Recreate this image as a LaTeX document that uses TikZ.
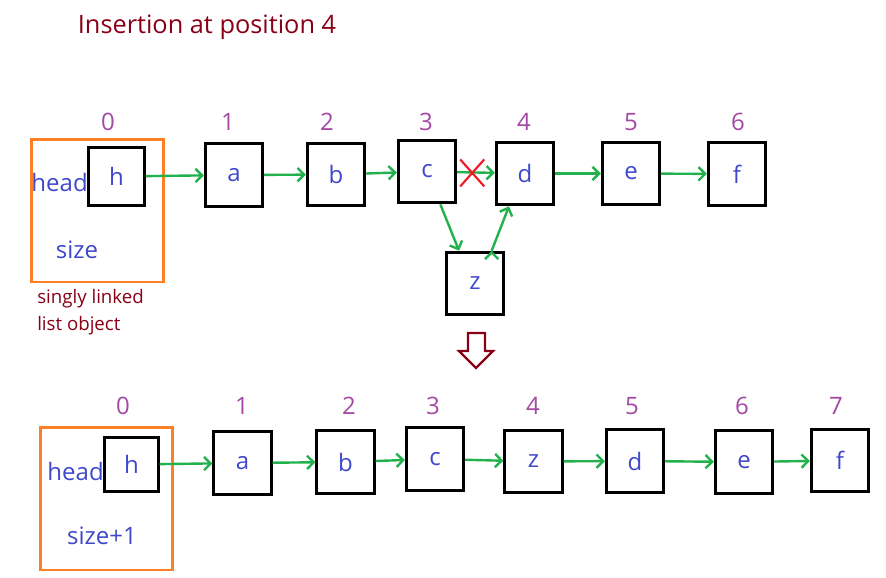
\documentclass[tikz,border=0pt]{standalone}
\usepackage{fontspec}
\setmainfont{Open Sans}
\usetikzlibrary{arrows.meta}
\definecolor{txtblue}{HTML}{3F48CC}
\definecolor{idxpurple}{HTML}{A349A4}
\definecolor{darkred}{HTML}{880015}
\definecolor{objorange}{HTML}{FF7F27}
\definecolor{linkgreen}{HTML}{22B14C}
\definecolor{cutred}{HTML}{ED1C24}
\tikzset{
  elem/.style    ={rectangle, draw=black, line width=2.2pt, minimum width=43pt,
    minimum height=47pt, inner sep=0pt, text=txtblue, font=\fontsize{18}{20}\selectfont},
  headbox/.style ={elem, minimum width=42pt, minimum height=44pt},
  object/.style  ={rectangle, draw=objorange, line width=2pt, minimum width=99pt,
    minimum height=107pt},
  field/.style   ={text=txtblue, inner sep=0pt, font=\fontsize{18}{20}\selectfont},
  index/.style   ={text=idxpurple, inner sep=0pt, font=\fontsize{18}{20}\selectfont},
  note/.style    ={text=darkred, inner sep=0pt, align=left, font=\fontsize{14}{20}\selectfont},
  nextarr/.style ={draw=linkgreen, line width=1.8pt, -{Straight Barb[length=5pt,width=10pt]}}}

\begin{document}
\begin{tikzpicture}[x=0.75pt,y=-0.75pt]
\useasboundingbox (0,0) rectangle (886,578);

\node[note, font=\fontsize{19}{22}\selectfont] (title) at (207,27) {Insertion at position 4};

% list before insertion
\node[object] (obj0) at (97.5,210.5) {};
\node[headbox] (h0) at (116.5,176.5) {h};
\node[field, anchor=east] (head0) at (88,182) {head};
\node[field] (size0) at (77,250) {size};
\node[note, anchor=north west] (caption) at (37,289) {singly linked\\list object};
\node[elem] (a0) at (234,175)   {a};
\node[elem] (b0) at (336,174.5) {b};
\node[elem] (c0) at (427,171.5) {c};
\node[elem] (d0) at (525,173.5) {d};
\node[elem] (e0) at (631,173.5) {e};
\node[elem] (f0) at (737,174)   {f};
\node[elem] (z0) at (475,283.5) {z};

\node[index] (i00) at (108,122) {0};
\node[index] (i01) at (228,122) {1};
\node[index] (i02) at (327,122) {2};
\node[index] (i03) at (426,122) {3};
\node[index] (i04) at (524,122) {4};
\node[index] (i05) at (631,122) {5};
\node[index] (i06) at (738,122) {6};

\path[nextarr]
  (h0) edge (a0)
  (a0) edge (b0)
  (b0) edge (c0)
  (c0) edge coordinate[pos=.4] (cut) (d0)
  (d0) edge (e0)
  (e0) edge (f0)
  % new node z
  ([xshift=10pt]c0.south) edge ([xshift=-12pt]z0.north)
  ([xshift=12.5pt]z0.north) edge ([xshift=-12pt]d0.south);

\draw[cutred, line width=1.6pt]
  (cut) ++(-12,-13) -- ++(24,27)
  (cut) ++(12,-13) -- ++(-24,27);

% hollow arrow
\draw[darkred, line width=1.6pt, fill=white]
  (468,333) -- (485,333) -- (485,351) -- (493,351) -- (476,368)
  -- (459,351) -- (468,351) -- cycle;

% list after insertion
\node[object] (obj1) at (106.5,498.5) {};
\node[headbox, minimum width=40pt, minimum height=41pt] (h1) at (131.5,464.5) {h};
\node[field, anchor=east] (head1) at (104,471) {head};
\node[field] (size1) at (102,536) {size+1};
\node[elem] (a1) at (242.5,463) {a};
\node[elem] (b1) at (345.5,462) {b};
\node[elem] (c1) at (435,459)   {c};
\node[elem] (z1) at (533.5,461.5) {z};
\node[elem] (d1) at (635,461)   {d};
\node[elem] (e1) at (744,462)   {e};
\node[elem] (f1) at (840,460.5) {f};

\node[index] (i10) at (123,406) {0};
\node[index] (i11) at (242,406) {1};
\node[index] (i12) at (349,406) {2};
\node[index] (i13) at (433,406) {3};
\node[index] (i14) at (533,406) {4};
\node[index] (i15) at (632,406) {5};
\node[index] (i16) at (742,406) {6};
\node[index] (i17) at (836,406) {7};

\path[nextarr]
  (h1) edge (a1)
  (a1) edge (b1)
  (b1) edge (c1)
  (c1) edge (z1)
  (z1) edge (d1)
  (d1) edge (e1)
  (e1) edge (f1);
\end{tikzpicture}
\end{document}
